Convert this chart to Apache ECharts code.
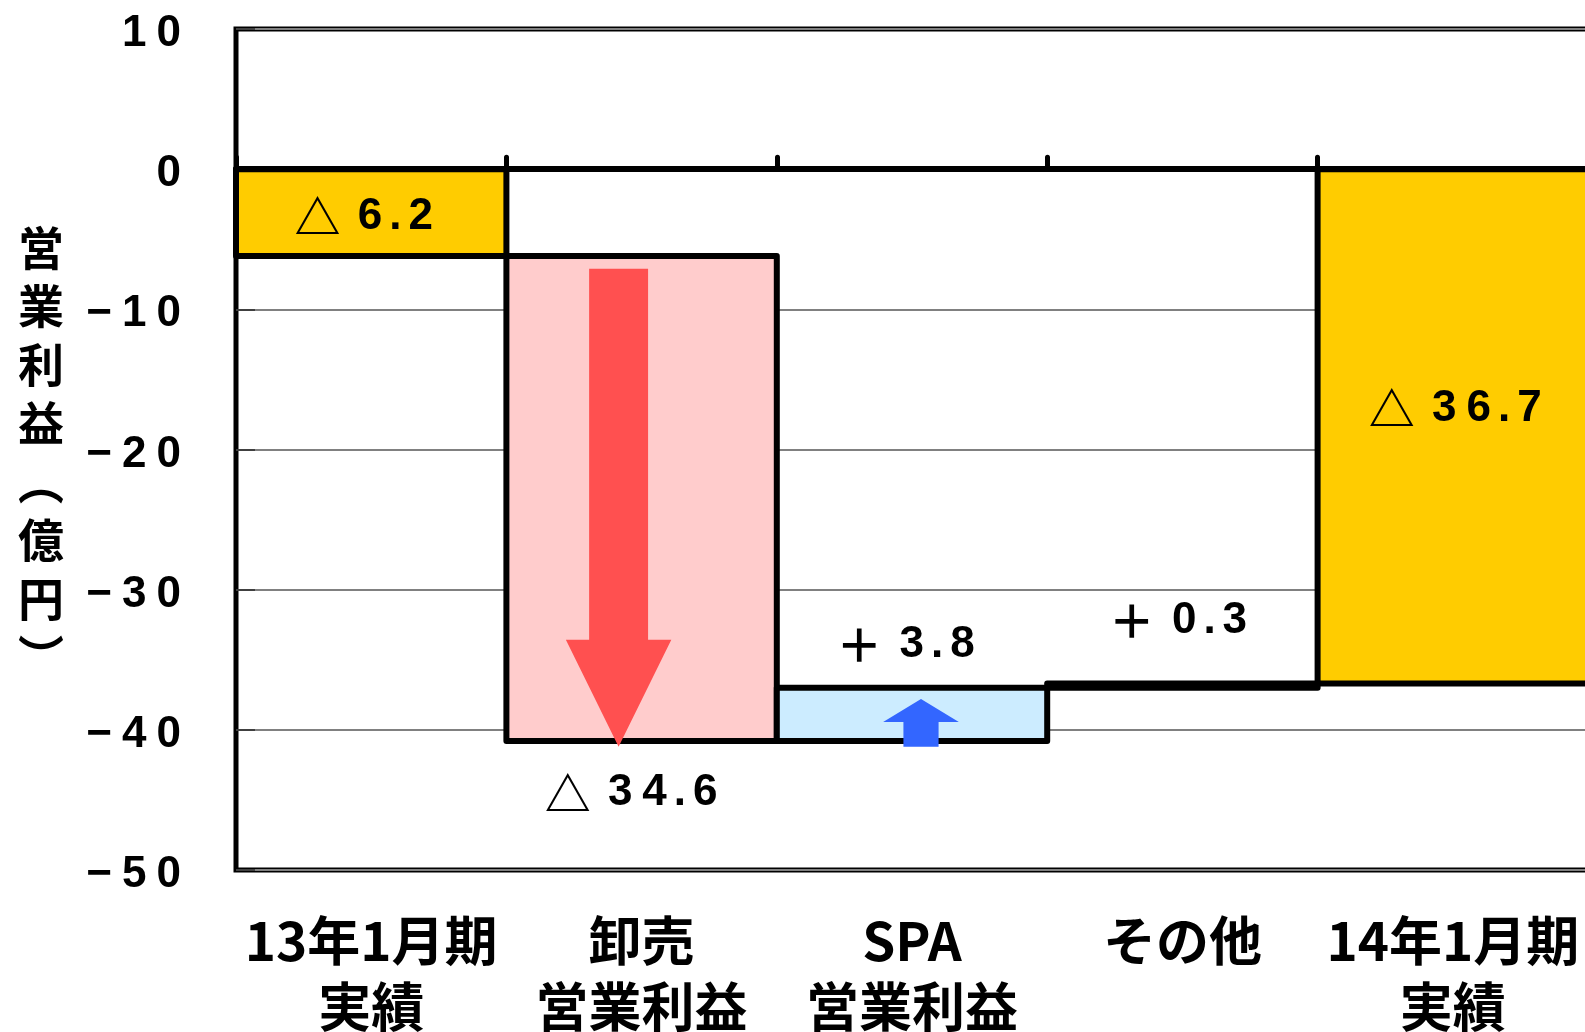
<!DOCTYPE html>
<html>
<head>
<meta charset="utf-8">
<script src="https://cdn.jsdelivr.net/npm/echarts@6/dist/echarts.min.js"></script>
<style>
  html, body { margin: 0; padding: 0; background: #fff; }
  #chart { width: 1585px; height: 1032px; }
</style>
</head>
<body>
<div id="chart"></div>
<script>
// categories and values
var categories = ['13年1月期\n実績', '卸売\n営業利益', 'SPA\n営業利益', 'その他', '14年1月期\n実績'];
var changes = [-6.2, -34.6, 3.8, 0.3, -36.7];
var isTotal = [true, false, false, false, true];
var valueLabels = ['△ 6.2', '△ 34.6', '＋ 3.8', '＋ 0.3', '△ 36.7'];
var yTicks = { min: -50, max: 10, step: 10 };

// arrows drawn inside the change bars
var arrowCats = [1, 2];
var arrowFrom = [-7.1, -41.2];
var arrowTo = [-41.2, -37.8];

// styling
var barColors = ['#FFCC00', '#FFCCCC', '#CCECFF', '#FFFFFF', '#FFCC00'];
var labelPlace = ['inside', 'below', 'above', 'above', 'inside'];
var labelShift = [[-5, 4], [-8, 52], [-4, -43], [-2, -63], [5, -18]];
var arrowColors = ['#FF5050', '#3366FF'];
var arrowShaft = [0.218, 0.13];
var arrowHead = [0.39, 0.28];
var arrowHeadLen = [107, 23];
var arrowShiftX = [-23, 9];

var narrowFont = "'Liberation Sans Narrow', 'Liberation Sans', sans-serif";
var jpFont = "'Noto Sans CJK JP', sans-serif";

// running totals for the waterfall
var barData = [];
var running = 0;
for (var i = 0; i < changes.length; i++) {
    var from, to;
    if (isTotal[i]) {
        from = 0;
        to = changes[i];
    } else {
        from = running;
        to = Math.round((running + changes[i]) * 10) / 10;
    }
    running = to;
    barData.push([i, from, to]);
}

var arrowData = arrowCats.map(function (c, k) {
    return [c, arrowFrom[k], arrowTo[k]];
});

// every char becomes its own rich token so it can be spaced out
function spaced(s, digitStyle) {
    return s.split('').map(function (c) {
        if (c === ' ') return ' ';
        if (c === '.') return '{p|.}';
        if (/[0-9−]/.test(c)) return '{' + digitStyle + '|' + c + '}';
        return '{g|' + c + '}';
    }).join('');
}

var labelRich = {
    g: { fontSize: 46, fontWeight: 'bold', fontFamily: jpFont, fill: '#000', color: '#000' },
    d: { fontSize: 44, fontWeight: 'bold', fontFamily: narrowFont, fill: '#000', color: '#000', padding: [0, 5, 0, 5] },
    p: { fontSize: 44, fontWeight: 'bold', fontFamily: narrowFont, fill: '#000', color: '#000', padding: [0, 2, 0, 2] }
};

function renderBar(params, api) {
    var idx = params.dataIndex;
    var c = api.value(0);
    var pA = api.coord([c, api.value(1)]);
    var pB = api.coord([c, api.value(2)]);
    var w = api.size([1, 0])[0];
    var top = Math.min(pA[1], pB[1]);
    var bottom = Math.max(pA[1], pB[1]);
    var ly;
    if (labelPlace[idx] === 'inside') ly = (top + bottom) / 2;
    else if (labelPlace[idx] === 'below') ly = bottom;
    else ly = top;
    return {
        type: 'group',
        children: [{
            type: 'rect',
            shape: { x: pA[0] - w / 2, y: top, width: w, height: bottom - top },
            style: { fill: barColors[idx], stroke: '#000', lineWidth: 6, lineJoin: 'round' }
        }, {
            type: 'text',
            z2: 10,
            x: pA[0] + labelShift[idx][0],
            y: ly + labelShift[idx][1],
            style: {
                text: spaced(valueLabels[idx], 'd'),
                align: 'center',
                verticalAlign: 'middle',
                fill: '#000',
                fontSize: 44,
                fontFamily: narrowFont,
                rich: labelRich
            }
        }]
    };
}

function renderArrow(params, api) {
    var k = params.dataIndex;
    var c = api.value(0);
    var base = api.coord([c, api.value(1)]);
    var tip = api.coord([c, api.value(2)]);
    var w = api.size([1, 0])[0];
    var cx = base[0] + arrowShiftX[k];
    var sw = w * arrowShaft[k] / 2;
    var hw = w * arrowHead[k] / 2;
    var dir = tip[1] > base[1] ? 1 : -1;
    var hy = tip[1] - dir * arrowHeadLen[k];
    return {
        type: 'polygon',
        shape: {
            points: [
                [cx - sw, base[1]], [cx - sw, hy], [cx - hw, hy], [cx, tip[1]],
                [cx + hw, hy], [cx + sw, hy], [cx + sw, base[1]]
            ]
        },
        style: { fill: arrowColors[k] }
    };
}

var chart = echarts.init(document.getElementById('chart'));
var option = {
    animation: false,
    backgroundColor: '#fff',
    grid: {
        left: 236, top: 29, right: -3, bottom: 162,
        containLabel: false,
        outerBoundsMode: 'none',
        show: true, borderColor: '#000', borderWidth: 5, backgroundColor: 'transparent'
    },
    xAxis: [{
        type: 'category',
        data: categories,
        position: 'bottom',
        axisLine: { show: false, onZero: false },
        axisTick: { show: false },
        splitLine: { show: false },
        axisLabel: {
            interval: 0,
            margin: 38,
            color: '#000',
            fontSize: 53,
            fontWeight: 'bold',
            fontFamily: jpFont,
            lineHeight: 66
        }
    }, {
        type: 'category',
        data: categories,
        position: 'top',
        z: 5,
        axisLine: { show: true, onZero: true, lineStyle: { color: '#000', width: 6 } },
        axisTick: { show: true, inside: false, length: 12, lineStyle: { color: '#000', width: 5, cap: 'round' } },
        axisLabel: { show: false },
        splitLine: { show: false }
    }],
    yAxis: {
        type: 'value',
        min: yTicks.min,
        max: yTicks.max,
        interval: yTicks.step,
        axisLine: { show: false },
        axisTick: { show: true, inside: true, length: 19, lineStyle: { color: '#404040', width: 2 } },
        splitLine: { lineStyle: { color: '#808080', width: 2 } },
        axisLabel: {
            margin: 50,
            formatter: function (v) {
                return spaced(String(v).replace('-', '−'), 't');
            },
            rich: {
                t: { fontSize: 44, fontWeight: 'bold', fontFamily: narrowFont, color: '#000', padding: [10, 5, 0, 5] }
            }
        }
    },
    graphic: [{
        type: 'text',
        x: 41,
        y: 452,
        style: {
            text: '営\n業\n利\n益\n︵\n億\n円\n︶',
            align: 'center',
            verticalAlign: 'middle',
            fontSize: 46,
            fontWeight: 'bold',
            fontFamily: jpFont,
            lineHeight: 58.5,
            fill: '#000'
        }
    }],
    series: [{
        type: 'custom',
        name: 'bars',
        xAxisIndex: 0,
        renderItem: renderBar,
        encode: { x: 0, y: [1, 2] },
        data: barData,
        z: 2
    }, {
        type: 'custom',
        name: 'arrows',
        xAxisIndex: 0,
        renderItem: renderArrow,
        encode: { x: 0, y: [1, 2] },
        data: arrowData,
        z: 3
    }]
};
chart.setOption(option);
</script>
</body>
</html>
